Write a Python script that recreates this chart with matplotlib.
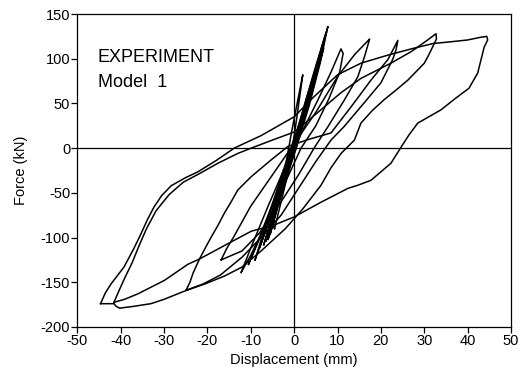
import matplotlib
matplotlib.use('Agg')
import matplotlib.pyplot as plt

plt.rcParams['font.family'] = 'Liberation Sans'
plt.rcParams['axes.unicode_minus'] = False

# hysteresis branches, displacement in mm / force in kN
# +44 mm cycle: outer tip -> upper branch -> peak -> falling branch
disp_44 = [-44.6, -43.5, -42.2, -39.2, -37.0, -35.3, -33.8, -32.3, -30.5, -28.3, -25.0, -22.2,
           -18.0, -13.8, -7.6, 0.0, 4.6, 10.0, 15.4, 21.6, 27.0, 32.0, 36.2, 40.0, 43.0, 44.4,
           44.6, 43.8, 42.3, 40.3, 37.0, 33.9, 28.5, 26.5, 24.7, 22.3, 17.7, 14.7, 12.4, 6.0,
           0.0, -4.6, -9.9, -15.3, -21.8, -24.5, -29.9, -36.0, -39.0, -41.5]
force_44 = [-174, -162, -152, -133, -113, -96, -80, -66, -53, -42, -33, -26.6,
            -14, 0, 14, 35, 57.6, 82, 95, 104, 111, 117, 119, 121, 124, 125,
            121, 113, 84, 67, 55, 43, 28, 15, 1.5, -17, -36, -41.5, -45, -61,
            -77, -86, -93, -107, -124, -130, -148, -163, -169, -172.5]

# +32 mm cycle
disp_32 = [-41.5, -40.4, -39.0, -37.3, -35.8, -34.0, -31.8, -28.8, -25.5, -21.8, -17.6, -13.0,
           -9.9, -5.0, 0.0, 5.0, 10.8, 15.4, 22.3, 27.0, 30.5, 32.7,
           32.8, 32.0, 31.0, 30.0, 28.0, 26.2, 23.5, 20.7, 18.0, 15.4, 13.9, 10.8, 8.5, 6.2,
           2.0, -2.0, -7.6, -12.0, -16.0, -20.6, -25.3, -29.9, -33.0, -37.0, -40.2, -41.0,
           -41.5, -44.6]
force_32 = [-172.5, -160, -145, -128, -110, -90, -70, -52, -38, -28.5, -17, -6,
            0, 9, 18, 38, 62, 78, 95, 108, 120, 128,
            122, 114, 104, 95, 85, 76, 65, 54, 42, 28, 9, -6, -22, -41.5,
            -68, -90, -115, -133, -143, -152, -160, -169, -174, -177, -179, -177,
            -174, -174]

# +24 mm cycle
disp_24 = [-24.9, -24.0, -23.3, -21.8, -20.5, -19.1, -17.5, -16.1, -14.5, -13.0, -9.9, -5.5,
           -1.4, 3.5, 8.5, 13.1, 17.7, 21.6, 23.0, 23.9,
           23.5, 22.7, 20.0, 16.2, 11.5, 8.5, 5.0, 1.0, -3.0, -7.6, -12.0, -17.0, -21.0, -24.9]
force_24 = [-159, -150, -140, -124, -112, -99.5, -86, -73, -60, -47, -32, -14,
            2, 10, 17, 46, 76, 99, 112, 120.5,
            110, 99, 73, 51, 24, 9, -15, -45, -75, -100, -122, -142, -152, -159]

# +17 mm cycle
disp_17 = [-16.8, -15.5, -14.0, -10.0, -5.0, 0.0, 5.0, 10.0, 14.0, 17.0, 17.4,
           16.2, 14.7, 11.6, 7.8, 4.6, 1.0, -3.0, -8.0, -12.0, -16.8]
force_17 = [-125, -112, -100, -65, -30, 5, 40, 80, 105, 120, 122,
            102, 80, 54, 24, 0, -30, -60, -95, -115, -125]

# +11 mm cycle
disp_11 = [-12.2, -10.0, -6.0, -2.0, 2.0, 5.5, 8.5, 10.8, 11.3, 10.5, 8.0, 5.0, 1.6,
           -2.0, -6.0, -10.0, -12.2]
force_11 = [-139, -112, -65, -20, 20, 54, 85, 111, 106, 85, 55, 25, 0,
            -38, -80, -120, -139]

# small early cycles around the origin
disp_s1 = [-7.0, -3.5, 0.0, 3.0, 5.5, 7.8, 7.3, 5.0, 2.5, 0.0, -3.0, -6.5, -7.0]
force_s1 = [-108, -55, -5, 45, 95, 136, 128, 92, 50, 5, -45, -100, -108]
disp_s2 = [-6.0, -2.0, 1.5, 4.5, 7.0, 6.6, 4.0, 1.0, -2.5, -5.5, -6.0]
force_s2 = [-102, -35, 18, 70, 120, 112, 70, 20, -35, -95, -102]
disp_s3 = [-4.5, -1.0, 0.5, 2.0, 1.5, -0.5, -2.0, -5.0, -4.5]
force_s3 = [-90, -20, 30, 82, 70, 20, -20, -85, -90]
disp_s4 = [-9.0, -5.0, -1.0, 2.5, 5.0, 4.4, 1.5, -2.5, -6.5, -9.0]
force_s4 = [-125, -72, -15, 40, 85, 78, 32, -25, -85, -125]
disp_s5 = [-8.0, -4.0, 0.5, 4.0, 6.2, 5.6, 3.0, -1.0, -5.0, -8.0]
force_s5 = [-112, -58, 5, 62, 104, 98, 52, -8, -70, -112]
disp_s6 = [-6.5, -3.0, 0.5, 3.5, 6.0, 7.5, 7.0, 5.3, 2.8, -0.5, -3.5, -6.5]
force_s6 = [-104, -52, 0, 48, 95, 130, 124, 95, 55, 0, -50, -104]
disp_s7 = [-5.5, -2.5, 0.8, 4.0, 6.8, 6.4, 3.5, 0.3, -2.8, -5.5]
force_s7 = [-96, -45, 8, 60, 112, 104, 58, 6, -45, -96]
disp_s8 = [-10.5, -7.0, -3.0, 0.5, 3.5, 3.0, 0.0, -4.0, -8.0, -10.5]
force_s8 = [-130, -90, -40, 10, 55, 48, 5, -50, -100, -130]

loops = [(disp_44, force_44), (disp_32, force_32), (disp_24, force_24),
         (disp_17, force_17), (disp_11, force_11), (disp_s1, force_s1),
         (disp_s2, force_s2), (disp_s3, force_s3), (disp_s4, force_s4),
         (disp_s5, force_s5), (disp_s6, force_s6), (disp_s7, force_s7),
         (disp_s8, force_s8)]

x_ticks = list(range(-50, 51, 10))
y_ticks = list(range(-200, 151, 50))

fig = plt.figure(figsize=(5.21, 3.69), dpi=100)
ax = fig.add_axes([0.148, 0.114, 0.833, 0.848])

for d, f in loops:
    ax.plot(d, f, color='black', lw=1.1)

ax.axhline(0, color='black', lw=0.9)
ax.axvline(0, color='black', lw=0.9)

ax.set_xlim(-50, 50)
ax.set_ylim(-200, 150)
ax.set_xticks(x_ticks)
ax.set_yticks(y_ticks)
for s in ax.spines.values():
    s.set_linewidth(0.9)
ax.tick_params(direction='out', length=4, width=0.9, labelsize=10.5, pad=1)
ax.set_xlabel('Displacement (mm)', fontsize=10.5, labelpad=4)
ax.set_ylabel('Force (kN)', fontsize=10.5, labelpad=9)

ax.text(-45.2, 96.5, 'EXPERIMENT', fontsize=13)
ax.text(-45.2, 68.5, 'Model  1', fontsize=13)

fig.savefig('out.png', dpi=100)
